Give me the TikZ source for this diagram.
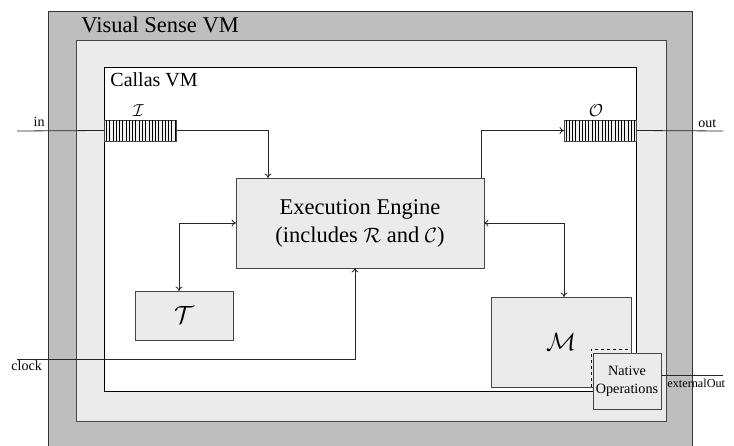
\documentclass[tikz,border=0pt]{standalone}
\usepackage{fontspec}
\setmainfont{Liberation Serif}
\usetikzlibrary{arrows.meta}
\definecolor{vsgray}{HTML}{BEBEBE}
\definecolor{lightfill}{HTML}{EBEBEB}
\definecolor{edge}{HTML}{454545}

\begin{document}
\begin{tikzpicture}[x=1pt,y=-1pt,line width=0.9pt,
  box/.style={draw=edge,fill=lightfill,inner sep=0pt,outer sep=0pt,line width=0.9pt},
  queuebox/.style={draw=edge,fill=white!94!black,inner sep=0pt,outer sep=0pt,
    minimum width=72pt,minimum height=21pt},
  wire/.style={draw=black!85,line width=0.8pt},
  lbl/.style={inner sep=0pt,font=\fontsize{14}{16}\selectfont},
  >={To[length=4.5pt,width=7pt]}]
\useasboundingbox (0,0) rectangle (734,446);
\clip (0,0) rectangle (734,446);

% nested virtual machines
\draw[draw=black!80,fill=vsgray] (48,11) rectangle (692,470);
\draw[draw=edge,fill=lightfill] (76,40) rectangle (666,421);
\draw[draw=black,fill=white] (104,67) rectangle (636,391);
\node[anchor=base west,inner sep=0pt,font=\fontsize{22.5}{26}\selectfont] (vslabel) at (81,33) {Visual Sense VM};
\node[anchor=base west,inner sep=0pt,font=\fontsize{20}{24}\selectfont] (callaslabel) at (110,87) {Callas VM};

% components
\node[box,minimum width=248pt,minimum height=90pt,align=center,
  font=\fontsize{22.5}{28}\selectfont] (engine) at (360,223)
  {Execution Engine\\(includes $\mathcal{R}$ and $\mathcal{C}$)};
\node[box,minimum width=98pt,minimum height=49pt] (tbox) at (184,315.5)
  {\fontsize{31}{31}\selectfont$\mathcal{T}$};
\node[box,minimum width=140pt,minimum height=90pt] (mbox) at (561,342)
  {\fontsize{31}{31}\selectfont$\mathcal{M}$};
\draw[dashed,line width=0.8pt] (591,387) -- (591,349) -- (631,349);
\node[box,minimum width=68pt,minimum height=56pt,align=center,
  font=\fontsize{14.2}{18}\selectfont] (native) at (627,381) {Native\\Operations};

% input and output queues
\node[queuebox] (qin) at (140.5,130.5) {};
\node[queuebox] (qout) at (600,130.5) {};
\foreach \q in {qin,qout}{
  \foreach \i in {0,...,21}{
    \draw[line width=0.55pt] ([xshift={1.8+3.27*\i}]\q.north west) -- ([xshift={1.8+3.27*\i}]\q.south west);
  }
}
\node[anchor=south,inner sep=3pt,font=\fontsize{16}{16}\selectfont] (ilabel) at ([xshift=-2]qin.north) {$\mathcal{I}$};
\node[anchor=south,inner sep=3pt,font=\fontsize{16}{16}\selectfont] (olabel) at ([xshift=-4]qout.north) {$\mathcal{O}$};

% external ports
\coordinate (inL) at (17,131);
\coordinate (outR) at (723,131);
\coordinate (clkL) at (17,359);
\coordinate (extR) at (723,375);
\node[lbl,anchor=base east] (intext) at (45,127) {in};
\node[lbl,anchor=base west] (outtext) at (698,128) {out};
\node[lbl,anchor=base west] (clocktext) at (11,371) {clock};
\node[lbl,anchor=base west,font=\fontsize{12.2}{14}\selectfont] (exttext) at (667,388) {externalOut};

% connections
\draw[wire] (inL) -- (qin.west);
\draw[wire,->] (qin.east) -| ([xshift=32]engine.north west);
\draw[wire,->] ([xshift=-3]engine.north east) |- (qout.west);
\draw[wire] (qout.east) -- (outR);
\draw[wire,<->] (engine.west) -| ([xshift=-5]tbox.north);
\draw[wire,<->] (engine.east) -| ([xshift=3]mbox.north);
\draw[wire,->] (clkL) -| ([xshift=119]engine.south west);
\draw[wire] (extR -| native.east) -- (extR);
\end{tikzpicture}
\end{document}
